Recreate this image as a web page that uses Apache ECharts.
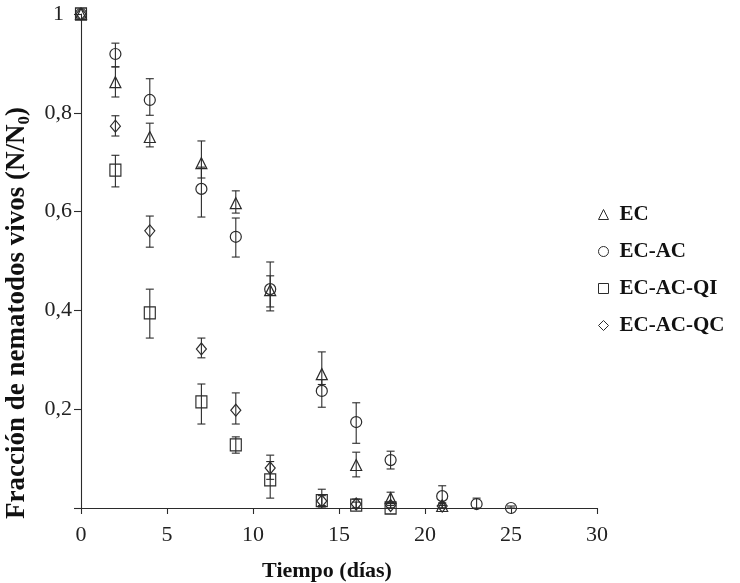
<!DOCTYPE html>
<html>
<head>
<meta charset="utf-8">
<script src="https://cdn.jsdelivr.net/npm/echarts@6/dist/echarts.min.js"></script>
<style>
  html, body { margin: 0; padding: 0; background: #fff; }
  #chart { width: 740px; height: 583px; }
</style>
</head>
<body>
<div id="chart"></div>
<script>
// Sampling days (x axis)
const days = [0, 2, 4, 7, 9, 11, 14, 16, 18, 21, 23, 25];

// Axis ticks
const xTicks = [0, 5, 10, 15, 20, 25, 30];
const yTicks = [0, 0.2, 0.4, 0.6, 0.8, 1];

// Series names
const seriesNames = ['EC', 'EC-AC', 'EC-AC-QI', 'EC-AC-QC'];

// EC: mean fraction and error-bar limits (aligned with days)
const ecMean = [1, 0.862, 0.751, 0.698, 0.617, 0.441, 0.271, 0.087, 0.020, 0.004, null, null];
const ecLow  = [1, 0.832, 0.731, 0.668, 0.597, 0.399, 0.250, 0.063, 0.010, 0.000, null, null];
const ecHigh = [1, 0.893, 0.779, 0.743, 0.642, 0.470, 0.316, 0.113, 0.032, 0.010, null, null];

// EC-AC
const ecacMean = [1, 0.919, 0.826, 0.646, 0.549, 0.443, 0.237, 0.174, 0.097, 0.024, 0.008, 0.000];
const ecacLow  = [1, 0.893, 0.795, 0.589, 0.508, 0.407, 0.204, 0.131, 0.079, 0.005, 0.000, 0.000];
const ecacHigh = [1, 0.941, 0.869, 0.690, 0.587, 0.498, 0.260, 0.213, 0.115, 0.045, 0.020, 0.004];

// EC-AC-QI
const qiMean = [1, 0.684, 0.395, 0.215, 0.128, 0.057, 0.015, 0.006, 0.000, null, null, null];
const qiLow  = [1, 0.650, 0.344, 0.170, 0.111, 0.020, 0.005, 0.000, 0.000, null, null, null];
const qiHigh = [1, 0.714, 0.443, 0.251, 0.144, 0.094, 0.025, 0.012, 0.005, null, null, null];

// EC-AC-QC
const qcMean = [1, 0.773, 0.561, 0.322, 0.198, 0.081, 0.014, 0.008, 0.005, 0.004, null, null];
const qcLow  = [1, 0.753, 0.528, 0.304, 0.170, 0.058, 0.000, 0.000, 0.000, 0.000, null, null];
const qcHigh = [1, 0.794, 0.591, 0.344, 0.233, 0.107, 0.038, 0.018, 0.012, 0.010, null, null];

const FONT = 'Liberation Serif';
const INK = '#2b2b2b';

function points(mean) {
  const out = [];
  days.forEach((d, i) => { if (mean[i] !== null) out.push([d, mean[i]]); });
  return out;
}
function bars(low, high) {
  const out = [];
  days.forEach((d, i) => {
    if (low[i] !== null && high[i] !== null && high[i] > low[i]) out.push([d, low[i], high[i]]);
  });
  return out;
}

// Vertical error bar with short caps
function renderErrorBar(params, api) {
  const x = api.value(0);
  const lo = api.coord([x, api.value(1)]);
  const hi = api.coord([x, api.value(2)]);
  const cap = 4;
  const style = { stroke: INK, lineWidth: 1.1 };
  return {
    type: 'group',
    children: [
      { type: 'line', shape: { x1: hi[0], y1: hi[1], x2: lo[0], y2: lo[1] }, style },
      { type: 'line', shape: { x1: hi[0] - cap, y1: hi[1], x2: hi[0] + cap, y2: hi[1] }, style },
      { type: 'line', shape: { x1: lo[0] - cap, y1: lo[1], x2: lo[0] + cap, y2: lo[1] }, style }
    ]
  };
}

const symbols = ['triangle', 'circle', 'rect', 'diamond'];
const sizes = [[11, 11], 11, [11, 12], [10, 12]];
const means = [ecMean, ecacMean, qiMean, qcMean];
const lows = [ecLow, ecacLow, qiLow, qcLow];
const highs = [ecHigh, ecacHigh, qiHigh, qcHigh];

const series = [];
seriesNames.forEach((name, k) => {
  series.push({
    type: 'custom',
    name: name + ' error',
    renderItem: renderErrorBar,
    data: bars(lows[k], highs[k]),
    encode: { x: 0, y: [1, 2] },
    clip: false,
    silent: true,
    z: 2
  });
});
seriesNames.forEach((name, k) => {
  series.push({
    type: 'scatter',
    name: name,
    symbol: symbols[k],
    symbolSize: sizes[k],
    data: points(means[k]),
    clip: false,
    itemStyle: { color: 'rgba(255,255,255,0)', borderColor: INK, borderWidth: 1.2, opacity: 1 },
    z: 3
  });
});

const chart = echarts.init(document.getElementById('chart'), null, { renderer: 'canvas' });
chart.setOption({
  animation: false,
  backgroundColor: '#ffffff',
  grid: { left: 81, right: 143, top: 14, bottom: 75, containLabel: false, outerBoundsMode: 'none' },
  legend: {
    orient: 'vertical',
    left: 598,
    top: 204,
    padding: 0,
    itemWidth: 10,
    itemHeight: 10,
    itemGap: 16,
    data: seriesNames.map((n, k) => ({ name: n, icon: symbols[k] })),
    itemStyle: { color: 'rgba(255,255,255,0)', borderColor: INK, borderWidth: 1 },
    textStyle: { fontFamily: FONT, fontWeight: 'bold', fontSize: 21, color: '#111', padding: [0, 0, 0, 6] },
    selectedMode: false
  },
  xAxis: {
    type: 'value',
    min: xTicks[0],
    max: xTicks[xTicks.length - 1],
    interval: xTicks[1] - xTicks[0],
    name: 'Tiempo (días)',
    nameLocation: 'middle',
    nameGap: 52,
    nameTextStyle: { fontFamily: FONT, fontWeight: 'bold', fontSize: 22, color: '#111', padding: [0, 24, 0, 0] },
    axisLine: { lineStyle: { color: INK, width: 1.1 } },
    axisTick: { show: true, inside: false, length: 6, lineStyle: { color: INK, width: 1.1 } },
    axisLabel: { fontFamily: FONT, fontSize: 22, color: '#222', margin: 16 },
    splitLine: { show: false }
  },
  yAxis: {
    type: 'value',
    min: yTicks[0],
    max: yTicks[yTicks.length - 1],
    interval: yTicks[1] - yTicks[0],
    name: 'Fracción de nematodos vivos (N/N{sub|0})',
    nameLocation: 'middle',
    nameGap: 46,
    nameTextStyle: {
      fontFamily: FONT, fontWeight: 'bold', fontSize: 27, color: '#111',
      padding: [0, 104, 0, 0],
      rich: { sub: { fontFamily: FONT, fontWeight: 'bold', fontSize: 17, color: '#111', verticalAlign: 'bottom', padding: [16, 0, 0, 0] } }
    },
    axisLine: { show: true, lineStyle: { color: INK, width: 1.1 } },
    axisTick: { show: true, inside: false, length: 7, lineStyle: { color: INK, width: 1.1 } },
    axisLabel: {
      fontFamily: FONT, fontSize: 22, color: '#222', margin: 9,
      formatter: v => (v === 0 ? '' : (v === 1 ? '{one|1}' : v.toFixed(1).replace('.', ','))),
      rich: { one: { fontFamily: FONT, fontSize: 22, color: '#222', padding: [0, 8, 0, 0] } }
    },
    splitLine: { show: false }
  },
  series: series
});
</script>
</body>
</html>
